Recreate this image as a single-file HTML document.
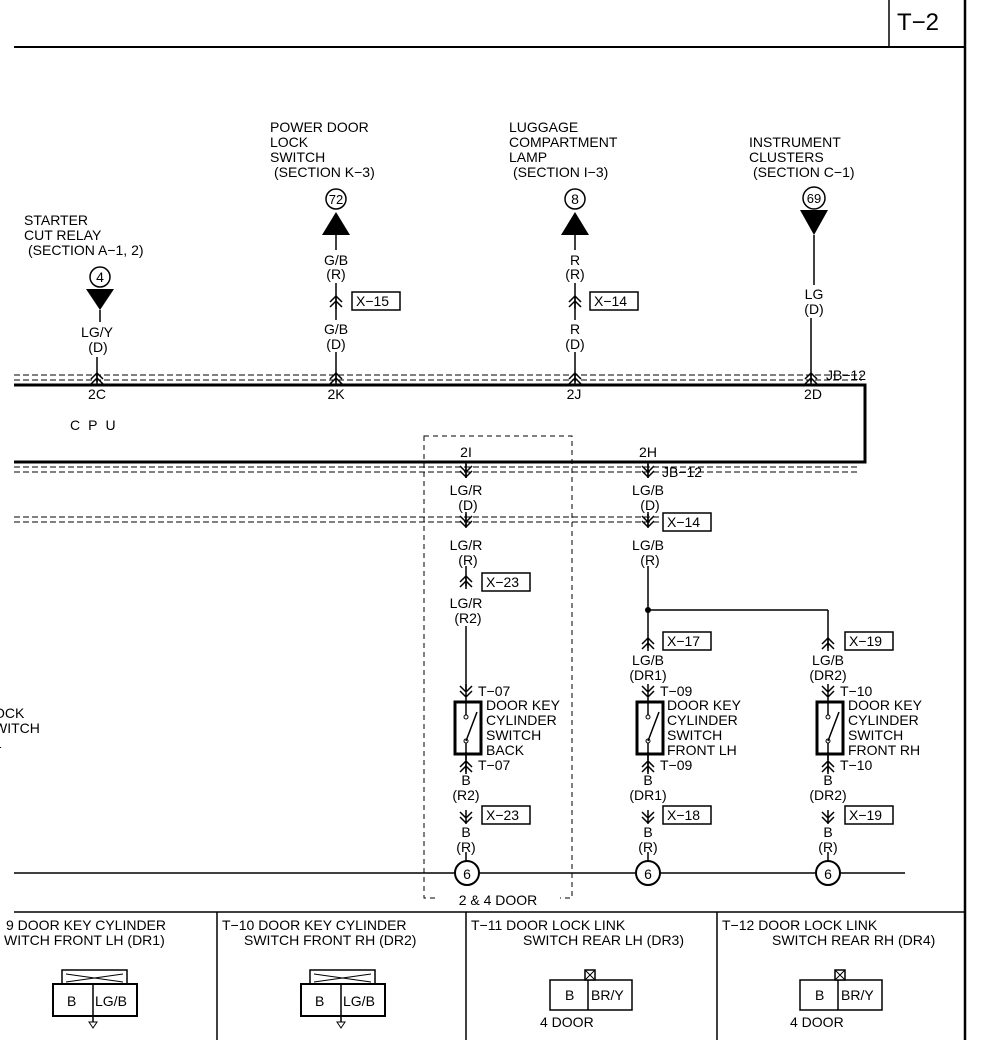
<!DOCTYPE html>
<html><head><meta charset="utf-8"><style>
html,body{margin:0;padding:0;background:#fff;}
svg{display:block;}
text{font-family:"Liberation Sans",sans-serif;font-size:14px;fill:#000;}
.c{text-anchor:middle;}
.s{font-size:13px;}
</style></head><body>
<svg width="992" height="1040" viewBox="0 0 992 1040" xmlns="http://www.w3.org/2000/svg">
<defs>
<g id="up" fill="none" stroke="#000" stroke-width="1.5"><path d="M-6,2 L0,-4 L6,2 M-6,7 L0,1 L6,7 M0,-4 L0,9"/></g>
<g id="dn" fill="none" stroke="#000" stroke-width="1.5"><path d="M-6,-6 L0,0 L6,-6 M-6,-1 L0,5 L6,-1 M0,-8 L0,6"/></g>
</defs>
<!-- frame -->
<line x1="14" y1="47" x2="965" y2="47" stroke="#000" stroke-width="2"/>
<line x1="965" y1="0" x2="965" y2="1040" stroke="#000" stroke-width="2.5"/>
<line x1="889" y1="0" x2="889" y2="47" stroke="#000" stroke-width="1.5"/>
<text x="897" y="30" style="font-size:24px">T−2</text>

<!-- top labels -->
<text x="24" y="225">STARTER</text><text x="24" y="240">CUT RELAY</text><text x="28" y="255">(SECTION A−1, 2)</text>
<text x="270" y="132">POWER DOOR</text><text x="270" y="147">LOCK</text><text x="270" y="162">SWITCH</text><text x="274" y="177">(SECTION K−3)</text>
<text x="509" y="132">LUGGAGE</text><text x="509" y="147">COMPARTMENT</text><text x="509" y="162">LAMP</text><text x="513" y="177">(SECTION I−3)</text>
<text x="749" y="147">INSTRUMENT</text><text x="749" y="162">CLUSTERS</text><text x="753" y="177">(SECTION C−1)</text>

<g stroke="#000" stroke-width="1.5" fill="#fff">
<circle cx="100" cy="277" r="10"/><circle cx="336" cy="199" r="10"/><circle cx="575" cy="199" r="10"/><circle cx="814" cy="198" r="11"/>
</g>
<text class="c" x="100" y="282">4</text><text class="c s" x="336" y="204">72</text><text class="c" x="575" y="204">8</text><text class="c s" x="814" y="203">69</text>
<g fill="#000">
<polygon points="86,289 114,289 100,310"/>
<polygon points="322,235 350,235 336,212"/>
<polygon points="561,235 589,235 575,212"/>
<polygon points="800,210 828,210 814,235"/>
</g>
<g stroke="#000" stroke-width="1.5">
<line x1="100" y1="310" x2="100" y2="322"/><line x1="97" y1="357" x2="97" y2="382"/>
<line x1="336" y1="235" x2="336" y2="250"/><line x1="336" y1="283" x2="336" y2="320"/><line x1="336" y1="352" x2="336" y2="382"/>
<line x1="575" y1="235" x2="575" y2="250"/><line x1="575" y1="283" x2="575" y2="320"/><line x1="575" y1="352" x2="575" y2="382"/>
<line x1="814" y1="235" x2="814" y2="285"/><line x1="811" y1="318" x2="811" y2="382"/>
</g>
<text class="c" x="97" y="337">LG/Y</text><text class="c" x="98" y="352">(D)</text>
<text class="c" x="336" y="265">G/B</text><text class="c" x="336" y="279">(R)</text>
<text class="c" x="336" y="334">G/B</text><text class="c" x="336" y="349">(D)</text>
<text class="c" x="575" y="265">R</text><text class="c" x="575" y="279">(R)</text>
<text class="c" x="575" y="334">R</text><text class="c" x="575" y="349">(D)</text>
<text class="c" x="814" y="299">LG</text><text class="c" x="814" y="314">(D)</text>
<use href="#up" x="336" y="300"/><use href="#up" x="575" y="300"/>
<g fill="#fff" stroke="#000" stroke-width="1.5"><rect x="352" y="292" width="48" height="18"/><rect x="590" y="292" width="48" height="18"/></g>
<text x="356" y="306">X−15</text><text x="594" y="306">X−14</text>

<!-- bus -->
<g stroke="#000" stroke-width="1" stroke-dasharray="6,3" fill="none">
<line x1="14" y1="375" x2="862" y2="375"/><line x1="14" y1="380" x2="862" y2="380"/>
<line x1="14" y1="467" x2="860" y2="467"/><line x1="14" y1="472" x2="860" y2="472"/>
<line x1="14" y1="517" x2="660" y2="517"/><line x1="14" y1="522" x2="660" y2="522"/>
</g>
<polyline points="14,385 865,385 865,462 14,462" fill="none" stroke="#000" stroke-width="3"/>
<use href="#up" x="97" y="377"/><use href="#up" x="336" y="377"/><use href="#up" x="575" y="377"/><use href="#up" x="811" y="377"/>
<text x="826" y="380">JB−12</text>
<text class="c" x="97" y="399">2C</text><text class="c" x="336" y="399">2K</text><text class="c" x="574" y="399">2J</text><text class="c" x="813" y="399">2D</text>
<text x="70" y="430" style="letter-spacing:8px">CPU</text>

<!-- dashed box -->
<rect x="424" y="436" width="148" height="462" fill="none" stroke="#000" stroke-width="1" stroke-dasharray="5,4"/>
<rect x="436" y="892" width="124" height="14" fill="#fff"/>
<text class="c" x="498" y="905">2 &amp; 4 DOOR</text>

<!-- columns -->
<g stroke="#000" stroke-width="1.5">
<line x1="466" y1="462" x2="466" y2="478"/><line x1="466" y1="512" x2="466" y2="526"/>
<line x1="466" y1="566" x2="466" y2="586"/><line x1="466" y1="626" x2="466" y2="690"/>
<line x1="466" y1="752" x2="466" y2="772"/><line x1="466" y1="852" x2="466" y2="861"/>
<line x1="648" y1="462" x2="648" y2="478"/><line x1="648" y1="512" x2="648" y2="526"/>
<line x1="648" y1="566" x2="648" y2="648"/><line x1="648" y1="610" x2="828" y2="610"/><line x1="828" y1="610" x2="828" y2="648"/>
<line x1="648" y1="752" x2="648" y2="772"/><line x1="648" y1="852" x2="648" y2="861"/>
<line x1="828" y1="752" x2="828" y2="772"/><line x1="828" y1="852" x2="828" y2="861"/>
<line x1="14" y1="873" x2="905" y2="873"/>
</g>
<circle cx="648" cy="610" r="3" fill="#000"/>
<text class="c" x="466" y="457">2I</text><text class="c" x="648" y="457">2H</text>
<use href="#dn" x="466" y="472"/><use href="#dn" x="466" y="522"/><use href="#up" x="466" y="580"/>
<use href="#dn" x="648" y="472"/><use href="#dn" x="648" y="522"/><use href="#up" x="648" y="642"/><use href="#up" x="828" y="642"/>
<text x="662" y="477">JB−12</text>
<text class="c" x="466" y="495">LG/R</text><text class="c" x="468" y="510">(D)</text>
<text class="c" x="466" y="550">LG/R</text><text class="c" x="468" y="565">(R)</text>
<text class="c" x="466" y="608">LG/R</text><text class="c" x="468" y="623">(R2)</text>
<text class="c" x="648" y="495">LG/B</text><text class="c" x="650" y="510">(D)</text>
<text class="c" x="648" y="550">LG/B</text><text class="c" x="650" y="565">(R)</text>
<text class="c" x="648" y="665">LG/B</text><text class="c" x="648" y="680">(DR1)</text>
<text class="c" x="828" y="665">LG/B</text><text class="c" x="828" y="680">(DR2)</text>
<g fill="#fff" stroke="#000" stroke-width="1.5">
<rect x="482" y="573" width="48" height="18"/><rect x="663" y="513" width="48" height="18"/>
<rect x="663" y="632" width="48" height="18"/><rect x="845" y="632" width="48" height="18"/>
<rect x="482" y="806" width="48" height="18"/><rect x="663" y="806" width="48" height="18"/><rect x="845" y="806" width="48" height="18"/>
</g>
<text x="486" y="587">X−23</text><text x="667" y="527">X−14</text><text x="667" y="646">X−17</text><text x="849" y="646">X−19</text>
<text x="486" y="820">X−23</text><text x="667" y="820">X−18</text><text x="849" y="820">X−19</text>

<!-- switches -->
<g id="sw">
<use href="#dn" x="466" y="692"/>
<rect x="455" y="702" width="26" height="52" fill="none" stroke="#000" stroke-width="3"/>
<line x1="466" y1="698" x2="466" y2="715" stroke="#000" stroke-width="1.5"/>
<line x1="466" y1="743" x2="466" y2="760" stroke="#000" stroke-width="1.5"/>
<circle cx="466" cy="717" r="2" fill="#fff" stroke="#000"/>
<circle cx="466" cy="741" r="2" fill="#fff" stroke="#000"/>
<line x1="466" y1="741" x2="477" y2="712" stroke="#000" stroke-width="1.5"/>
<use href="#up" x="466" y="765"/>
<use href="#dn" x="466" y="818"/>
</g>
<use href="#sw" x="182" y="0"/><use href="#sw" x="362" y="0"/>
<text x="478" y="696">T−07</text><text x="478" y="770">T−07</text>
<text x="660" y="696">T−09</text><text x="660" y="770">T−09</text>
<text x="840" y="696">T−10</text><text x="840" y="770">T−10</text>
<text x="486" y="710">DOOR KEY</text><text x="486" y="725">CYLINDER</text><text x="486" y="740">SWITCH</text><text x="486" y="755">BACK</text>
<text x="667" y="710">DOOR KEY</text><text x="667" y="725">CYLINDER</text><text x="667" y="740">SWITCH</text><text x="667" y="755">FRONT LH</text>
<text x="848" y="710">DOOR KEY</text><text x="848" y="725">CYLINDER</text><text x="848" y="740">SWITCH</text><text x="848" y="755">FRONT RH</text>
<text class="c" x="466" y="785">B</text><text class="c" x="466" y="800">(R2)</text>
<text class="c" x="648" y="785">B</text><text class="c" x="648" y="800">(DR1)</text>
<text class="c" x="828" y="785">B</text><text class="c" x="828" y="800">(DR2)</text>
<text class="c" x="466" y="837">B</text><text class="c" x="466" y="852">(R)</text>
<text class="c" x="648" y="837">B</text><text class="c" x="648" y="852">(R)</text>
<text class="c" x="828" y="837">B</text><text class="c" x="828" y="852">(R)</text>
<g fill="#fff" stroke="#000" stroke-width="2"><circle cx="467" cy="873" r="12"/><circle cx="648" cy="873" r="12"/><circle cx="828" cy="873" r="12"/></g>
<text class="c" x="467" y="879">6</text><text class="c" x="648" y="879">6</text><text class="c" x="828" y="879">6</text>

<text x="-6" y="718">OCK</text><text x="-6" y="733">WITCH</text><text x="-6" y="748">1</text>

<!-- bottom -->
<g stroke="#000" stroke-width="1.5">
<line x1="14" y1="912" x2="965" y2="912"/>
<line x1="217" y1="912" x2="217" y2="1040"/><line x1="466" y1="912" x2="466" y2="1040"/><line x1="717" y1="912" x2="717" y2="1040"/>
</g>
<text x="6" y="930">9 DOOR KEY CYLINDER</text><text x="4" y="945">WITCH FRONT LH (DR1)</text>
<text x="222" y="930">T−10 DOOR KEY CYLINDER</text><text x="244" y="945">SWITCH FRONT RH (DR2)</text>
<text x="471" y="930">T−11 DOOR LOCK LINK</text><text x="523" y="945">SWITCH REAR LH (DR3)</text>
<text x="722" y="930">T−12 DOOR LOCK LINK</text><text x="772" y="945">SWITCH REAR RH (DR4)</text>
<g id="ck" stroke="#000" fill="#fff">
<rect x="62" y="970" width="65" height="14" stroke-width="1.5"/>
<path d="M66,974 L123,982 M66,982 L123,974" stroke-width="1"/>
<rect x="53" y="984" width="84" height="32" stroke-width="2"/>
<line x1="93" y1="984" x2="93" y2="1022" stroke-width="1.5"/>
<path d="M89,1022 L97,1022 L93,1028 Z" stroke-width="1"/>
</g>
<use href="#ck" x="248" y="0"/>
<text x="67" y="1006">B</text><text x="95" y="1006">LG/B</text>
<text x="315" y="1006">B</text><text x="343" y="1006">LG/B</text>
<g stroke="#000" fill="#fff" stroke-width="1.5">
<rect x="550" y="980" width="82" height="30"/><line x1="588" y1="980" x2="588" y2="1010"/>
<rect x="585" y="970" width="10" height="10"/><path d="M585,970 L595,980 M595,970 L585,980" stroke-width="1"/>
<rect x="800" y="980" width="82" height="30"/><line x1="838" y1="980" x2="838" y2="1010"/>
<rect x="835" y="970" width="10" height="10"/><path d="M835,970 L845,980 M845,970 L835,980" stroke-width="1"/>
</g>
<text x="565" y="1000">B</text><text x="591" y="1000">BR/Y</text>
<text x="815" y="1000">B</text><text x="841" y="1000">BR/Y</text>
<text x="540" y="1027">4 DOOR</text><text x="790" y="1027">4 DOOR</text>
</svg>
</body></html>
